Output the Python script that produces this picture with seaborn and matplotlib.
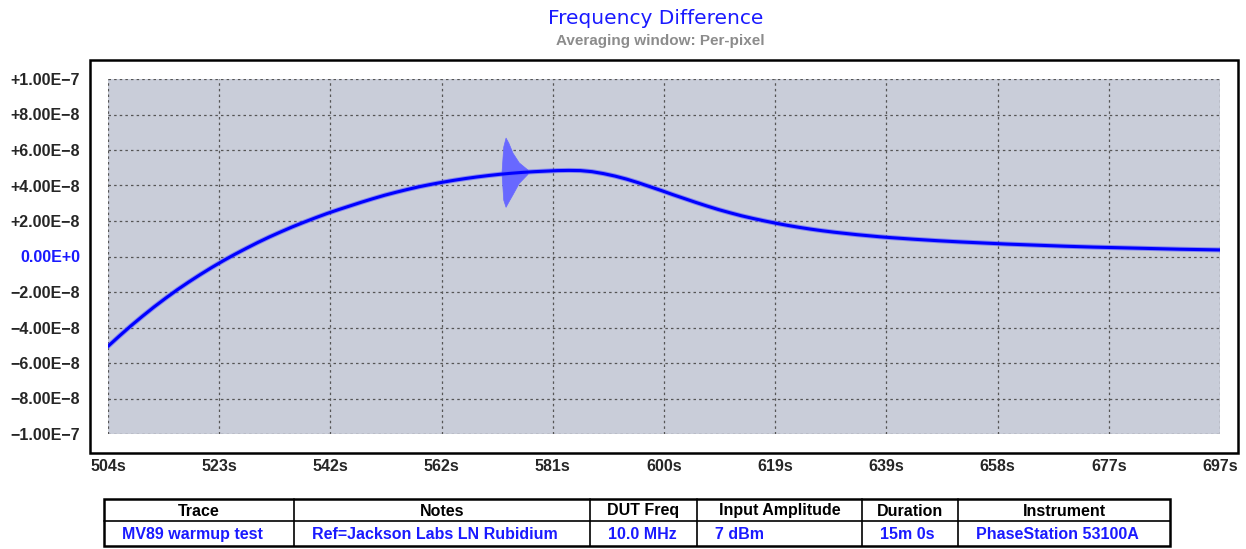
import numpy as np
import pandas as pd
import matplotlib
matplotlib.use("Agg")
import matplotlib.pyplot as plt
from matplotlib.patches import Rectangle
import seaborn as sns

# trace (seconds, units of 1e-8)
times = [504, 506, 508, 510, 512, 514, 516, 518, 520, 522, 524, 526, 528, 530,
         532, 534, 536, 538, 540, 542, 544, 546, 548, 550, 552, 554, 556, 558,
         560, 562, 564, 566, 568, 570, 572, 574, 576, 578, 580, 582, 584, 586,
         588, 590, 592, 594, 596, 598, 600, 602, 604, 606, 608, 610, 612, 614,
         616, 618, 620, 622, 624, 626, 628, 630, 632, 634, 636, 638, 640, 644,
         648, 652, 656, 660, 665, 670, 675, 680, 685, 690, 697]
freq_diff = [-5.06, -4.47, -3.90, -3.36, -2.84, -2.35, -1.88, -1.44, -1.02, -0.62,
             -0.24, 0.12, 0.46, 0.79, 1.10, 1.39, 1.67, 1.93, 2.18, 2.42,
             2.64, 2.85, 3.06, 3.26, 3.45, 3.62, 3.78, 3.93, 4.06, 4.18,
             4.29, 4.39, 4.48, 4.56, 4.63, 4.69, 4.74, 4.78, 4.81, 4.84,
             4.85, 4.84, 4.78, 4.67, 4.53, 4.36, 4.16, 3.94, 3.72, 3.49,
             3.27, 3.05, 2.84, 2.64, 2.46, 2.29, 2.14, 2.00, 1.87, 1.75,
             1.64, 1.54, 1.45, 1.37, 1.30, 1.23, 1.17, 1.11, 1.06, 0.97,
             0.89, 0.82, 0.76, 0.70, 0.64, 0.58, 0.53, 0.49, 0.45, 0.41,
             0.37]

# noise burst around 573 s
burst_t = [572.3, 572.6, 573.0, 573.5, 574.2, 575.3, 576.8]
burst_hi = [4.75, 6.2, 6.7, 6.4, 5.85, 5.3, 4.9]
burst_lo = [4.7, 3.2, 2.8, 3.1, 3.5, 4.15, 4.65]

x_labels = ["504s", "523s", "542s", "562s", "581s", "600s", "619s", "639s", "658s", "677s", "697s"]
y_labels = ["\u22121.00E\u22127", "\u22128.00E\u22128", "\u22126.00E\u22128", "\u22124.00E\u22128",
            "\u22122.00E\u22128", "0.00E+0", "+2.00E\u22128", "+4.00E\u22128", "+6.00E\u22128",
            "+8.00E\u22128", "+1.00E\u22127"]

table_header = ["Trace", "Notes", "DUT Freq", "Input Amplitude", "Duration", "Instrument"]
table_values = ["MV89 warmup test", "Ref=Jackson Labs LN Rubidium", "10.0 MHz", "7 dBm",
                "15m 0s", "PhaseStation 53100A"]

df = pd.DataFrame({"t": times, "v": np.array(freq_diff) * 1e-8})

sns.set_style("white")
plt.rcParams['font.family'] = ['Liberation Sans', 'DejaVu Sans']

W, H = 1246, 549
fig = plt.figure(figsize=(W / 100, H / 100), dpi=100)


def fx(px):
    return px / W


def fy(py):
    return 1 - py / H


# overlay in pixel coords for frame, titles and the table
over = fig.add_axes([0, 0, 1, 1], zorder=0)
over.set_xlim(0, W)
over.set_ylim(H, 0)
over.axis('off')
over.add_patch(Rectangle((90, 60), 1148, 393, fill=False, ec='black', lw=1.8))

over.text(656, 19, "Frequency Difference", ha='center', va='center', fontsize=14.5,
          color='#1a1aff', family=['DejaVu Sans'])
over.text(660, 41, "Averaging window: Per-pixel", ha='center', va='center', fontsize=11,
          color='#8c8c8c', fontweight='bold')

# table
edges = [104, 294, 590, 697, 862, 958, 1170]
top, mid, bot = 499, 521, 546
over.add_patch(Rectangle((edges[0], top), edges[-1] - edges[0], bot - top,
                         fill=False, ec='black', lw=1.8))
over.plot([edges[0], edges[-1]], [mid, mid], color='black', lw=1.2)
for e in edges[1:-1]:
    over.plot([e, e], [top, bot], color='black', lw=1.2)
for i, (h, v) in enumerate(zip(table_header, table_values)):
    over.text((edges[i] + edges[i + 1]) / 2, (top + mid) / 2 + 1, h, ha='center', va='center',
              fontsize=11.5, fontweight='bold', color='black')
    over.text(edges[i] + 18, (mid + bot) / 2 + 1, v, ha='left', va='center',
              fontsize=11.5, fontweight='bold', color='#1a1aff')

# main plot
ax = fig.add_axes([fx(108), fy(434), fx(1220) - fx(108), fy(79) - fy(434)], zorder=1)
ax.set_facecolor('#c9cdd9')

ax.fill_between(np.array(burst_t), np.array(burst_lo) * 1e-8, np.array(burst_hi) * 1e-8,
                color='#6868ff', lw=0.5, zorder=3)
sns.lineplot(data=df, x="t", y="v", ax=ax, color='#5a5aff', lw=3.6, alpha=0.6, zorder=4)
sns.lineplot(data=df, x="t", y="v", ax=ax, color='#0000ff', lw=2.2, zorder=5)

ax.set_xlim(504, 697)
ax.set_ylim(-1e-7, 1e-7)
ax.set_xticks(np.linspace(504, 697, len(x_labels)))
ax.set_xticklabels(x_labels)
ax.set_yticks(np.linspace(-1e-7, 1e-7, len(y_labels)))
ax.set_yticklabels(y_labels)
ax.set_xlabel("")
ax.set_ylabel("")
ax.tick_params(length=0, labelsize=11.5)
ax.tick_params(axis='y', pad=20)
ax.tick_params(axis='x', pad=18)
for lab in ax.get_xticklabels() + ax.get_yticklabels():
    lab.set_fontweight('bold')
ax.get_yticklabels()[5].set_color('#1a1aff')

ax.grid(True, color='#555555', ls=(0, (2, 2.5)), lw=0.9)
ax.set_axisbelow(True)
for s in ax.spines.values():
    s.set_visible(False)

fig.savefig("out.png", dpi=100)
